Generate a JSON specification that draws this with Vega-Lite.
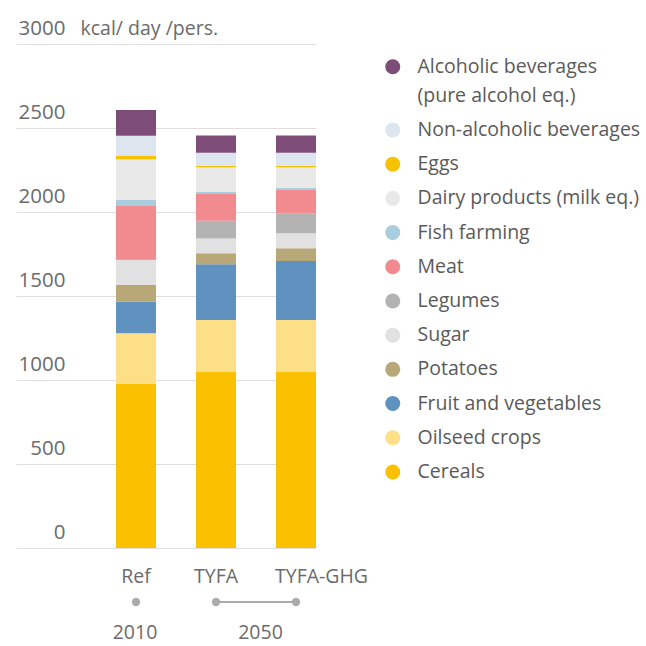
{
  "$schema": "https://vega.github.io/schema/vega-lite/v6.json",
  "width": 300,
  "height": 504,
  "autosize": {"type": "none"},
  "padding": {"left": 16, "top": 44, "right": 330, "bottom": 98},
  "background": "white",
  "config": {
    "view": {"stroke": null},
    "font": "Open Sans",
    "text": {"font": "Open Sans"},
    "style": {"guide-label": {"lineHeight": 29}}
  },
  "datasets": {
    "food": [
      {"scenario": "Ref", "category": "Cereals", "kcal": 976},
      {"scenario": "Ref", "category": "Oilseed crops", "kcal": 302},
      {"scenario": "Ref", "category": "Fruit and vegetables", "kcal": 188},
      {"scenario": "Ref", "category": "Potatoes", "kcal": 99},
      {"scenario": "Ref", "category": "Sugar", "kcal": 150},
      {"scenario": "Ref", "category": "Legumes", "kcal": 5},
      {"scenario": "Ref", "category": "Meat", "kcal": 315},
      {"scenario": "Ref", "category": "Fish farming", "kcal": 38},
      {"scenario": "Ref", "category": "Dairy products (milk eq.)", "kcal": 239},
      {"scenario": "Ref", "category": "Eggs", "kcal": 25},
      {"scenario": "Ref", "category": "Non-alcoholic beverages", "kcal": 117},
      {"scenario": "Ref", "category": "Alcoholic beverages", "kcal": 153},
      {"scenario": "TYFA", "category": "Cereals", "kcal": 1050},
      {"scenario": "TYFA", "category": "Oilseed crops", "kcal": 307},
      {"scenario": "TYFA", "category": "Fruit and vegetables", "kcal": 332},
      {"scenario": "TYFA", "category": "Potatoes", "kcal": 65},
      {"scenario": "TYFA", "category": "Sugar", "kcal": 89},
      {"scenario": "TYFA", "category": "Legumes", "kcal": 105},
      {"scenario": "TYFA", "category": "Meat", "kcal": 163},
      {"scenario": "TYFA", "category": "Fish farming", "kcal": 8},
      {"scenario": "TYFA", "category": "Dairy products (milk eq.)", "kcal": 147},
      {"scenario": "TYFA", "category": "Eggs", "kcal": 10},
      {"scenario": "TYFA", "category": "Non-alcoholic beverages", "kcal": 76},
      {"scenario": "TYFA", "category": "Alcoholic beverages", "kcal": 103},
      {"scenario": "TYFA-GHG", "category": "Cereals", "kcal": 1050},
      {"scenario": "TYFA-GHG", "category": "Oilseed crops", "kcal": 307},
      {"scenario": "TYFA-GHG", "category": "Fruit and vegetables", "kcal": 351},
      {"scenario": "TYFA-GHG", "category": "Potatoes", "kcal": 76},
      {"scenario": "TYFA-GHG", "category": "Sugar", "kcal": 89},
      {"scenario": "TYFA-GHG", "category": "Legumes", "kcal": 119},
      {"scenario": "TYFA-GHG", "category": "Meat", "kcal": 139},
      {"scenario": "TYFA-GHG", "category": "Fish farming", "kcal": 14},
      {"scenario": "TYFA-GHG", "category": "Dairy products (milk eq.)", "kcal": 121},
      {"scenario": "TYFA-GHG", "category": "Eggs", "kcal": 10},
      {"scenario": "TYFA-GHG", "category": "Non-alcoholic beverages", "kcal": 76},
      {"scenario": "TYFA-GHG", "category": "Alcoholic beverages", "kcal": 103}
    ],
    "scen": [
      {"scenario": "Ref", "period": "2010"},
      {"scenario": "TYFA", "period": "2050"},
      {"scenario": "TYFA-GHG", "period": "2050"}
    ],
    "years": [
      {"period": "2010"},
      {"period": "2050"}
    ]
  },
  "layer": [
    {
      "layer": [
        {
          "data": {"name": "food"},
          "transform": [
            {"calculate": "indexof(['Cereals','Oilseed crops','Fruit and vegetables','Potatoes','Sugar','Legumes','Meat','Fish farming','Dairy products (milk eq.)','Eggs','Non-alcoholic beverages','Alcoholic beverages'], datum.category)", "as": "stackOrder"}
          ],
          "mark": {"type": "bar"},
          "encoding": {
            "x": {
              "field": "scenario", "type": "nominal",
              "sort": ["Ref", "TYFA", "TYFA-GHG"],
              "scale": {"type": "band", "paddingInner": 0.5, "paddingOuter": 0.625, "align": 1},
              "axis": {
                "title": null, "domain": false, "ticks": false, "grid": false, "labelAngle": 0,
                "labelPadding": 19, "labelFontSize": 19.5, "labelColor": "#6b6b6b", "labelFont": "Open Sans",
                "labelAlign": {"condition": {"test": "datum.value == 'TYFA-GHG'", "value": "left"}, "value": "center"},
                "labelOffset": {"condition": {"test": "datum.value == 'TYFA-GHG'", "value": -21}, "value": 0}
              }
            },
            "y": {
              "field": "kcal", "type": "quantitative", "stack": "zero",
              "scale": {"domain": [0, 3000], "nice": false},
              "axis": {
                "values": [0, 500, 1000, 1500, 2000, 2500, 3000], "format": "d",
                "grid": true, "gridColor": "#dedede", "gridWidth": 1,
                "domain": false, "ticks": false,
                "labelAlign": "right", "labelPadding": -49, "labelBaseline": "alphabetic", "labelOffset": -10,
                "labelFontSize": 20.5, "labelColor": "#6b6b6b", "labelFont": "Open Sans",
                "labelFlush": false, "labelOverlap": false, "labelBound": false, "labelLimit": 0,
                "title": "kcal/ day /pers.", "titleAngle": 0, "titleAlign": "left", "titleBaseline": "alphabetic",
                "titleX": 64, "titleY": -10, "titleFontSize": 19.5, "titleFontWeight": "normal",
                "titleColor": "#6b6b6b", "titleFont": "Open Sans"
              }
            },
            "color": {
              "field": "category", "type": "nominal",
              "scale": {
                "domain": ["Alcoholic beverages", "Non-alcoholic beverages", "Eggs", "Dairy products (milk eq.)", "Fish farming", "Meat", "Legumes", "Sugar", "Potatoes", "Fruit and vegetables", "Oilseed crops", "Cereals"],
                "range": ["#7d4c77", "#dde5ee", "#f7c200", "#e9e9e9", "#a8cddc", "#f28b90", "#b3b3b3", "#e1e1e1", "#b8a878", "#5f92bf", "#fddf87", "#fbc100"]
              },
              "legend": {
                "orient": "none", "legendX": 367, "legendY": 13, "title": null,
                "symbolType": "circle", "symbolSize": 225, "symbolStrokeWidth": 0, "symbolOpacity": 1,
                "labelFontSize": 19.5, "labelColor": "#5a5a5a", "labelFont": "Open Sans",
                "labelOffset": 15, "rowPadding": 13.2, "labelLimit": 0,
                "labelExpr": "datum.label == 'Alcoholic beverages' ? ['Alcoholic beverages', '(pure alcohol eq.)'] : datum.label"
              }
            },
            "order": {"field": "stackOrder", "type": "quantitative"}
          }
        },
        {
          "data": {"name": "scen"},
          "mark": {"type": "line", "color": "#ababab", "strokeWidth": 2},
          "encoding": {
            "x": {"field": "scenario", "type": "nominal", "sort": ["Ref", "TYFA", "TYFA-GHG"]},
            "y": {"datum": -321, "type": "quantitative", "scale": {"domain": [0, 3000], "nice": false}},
            "detail": {"field": "period"}
          }
        },
        {
          "data": {"name": "scen"},
          "mark": {"type": "point", "filled": true, "color": "#ababab", "size": 70, "opacity": 1},
          "encoding": {
            "x": {"field": "scenario", "type": "nominal", "sort": ["Ref", "TYFA", "TYFA-GHG"]},
            "y": {"datum": -321, "type": "quantitative", "scale": {"domain": [0, 3000], "nice": false}}
          }
        }
      ]
    },
    {
      "data": {"name": "years"},
      "mark": {"type": "text", "fontSize": 19.5, "color": "#6b6b6b", "baseline": "middle", "align": "center", "font": "Open Sans"},
      "encoding": {
        "x": {"field": "period", "type": "nominal", "scale": {"type": "point", "padding": 0.695, "align": 0.682}, "axis": null},
        "y": {"datum": -508, "type": "quantitative", "scale": {"domain": [0, 3000], "nice": false}},
        "text": {"field": "period"}
      }
    }
  ],
  "resolve": {"scale": {"x": "independent"}}
}
